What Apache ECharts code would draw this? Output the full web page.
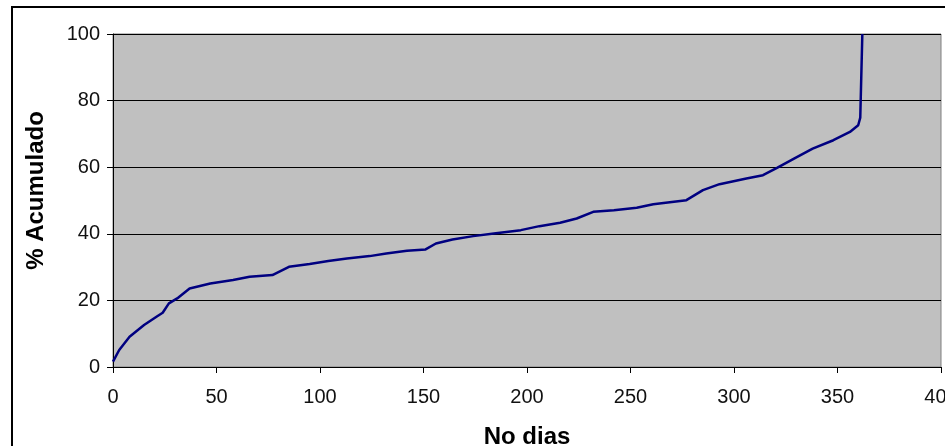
<!DOCTYPE html>
<html>
<head>
<meta charset="utf-8">
<script src="https://cdn.jsdelivr.net/npm/echarts@6/dist/echarts.min.js"></script>
<style>
  html, body { margin: 0; padding: 0; background: #fff; }
  #chart { width: 945px; height: 446px; }
</style>
</head>
<body>
<div id="chart"></div>
<script>
// values
const days = [0, 3, 8, 15, 21, 24, 27, 31, 37, 47, 58, 66, 77, 85, 95, 104, 113, 124, 132, 142,
  151, 156, 164, 174, 184, 197, 206, 216, 224, 232, 242, 253, 261, 277, 285, 293, 306, 314,
  321, 329, 338, 348, 356, 360, 361, 362]
const pct = [1.6, 5.1, 9.1, 12.6, 15.1, 16.3, 19.1, 20.6, 23.6, 25.1, 26.1, 27.1, 27.6, 30.1,
  30.9, 31.8, 32.6, 33.3, 34.1, 34.9, 35.3, 37.1, 38.3, 39.3, 40.1, 41.1, 42.3, 43.3, 44.6,
  46.6, 47.1, 47.8, 48.9, 50.1, 53.1, 54.9, 56.6, 57.6, 59.9, 62.6, 65.6, 68.1, 70.6, 72.6,
  74.9, 100]

const xName = 'No dias'
const yName = '% Acumulado'

const chart = echarts.init(document.getElementById('chart'))

const fontFamily = 'Liberation Sans, Arial, sans-serif'
const labelFont = { fontFamily, fontSize: 20, color: '#111' }
const nameFont = { fontFamily, fontSize: 24, fontWeight: 'bold', color: '#000' }

const option = {
  animation: false,
  backgroundColor: '#fff',
  graphic: [
    {
      // outer chart frame (runs off the right and bottom edges)
      type: 'rect',
      shape: { x: 12, y: 7, width: 1000, height: 500 },
      style: { fill: 'none', stroke: '#000', lineWidth: 2 },
      z: 0
    }
  ],
  grid: {
    left: 113,
    right: 4,
    top: 34,
    bottom: 79,
    outerBoundsMode: 'none',
    show: true,
    backgroundColor: '#c0c0c0',
    borderColor: '#808080',
    borderWidth: 1
  },
  xAxis: {
    type: 'value',
    min: 0,
    max: 400,
    interval: 50,
    name: xName,
    nameLocation: 'middle',
    nameGap: 58,
    nameTextStyle: nameFont,
    axisLine: { show: true, lineStyle: { color: '#000', width: 1 } },
    axisTick: { show: true, length: 6, lineStyle: { color: '#000' } },
    axisLabel: { ...labelFont, margin: 20 },
    splitLine: { show: false }
  },
  yAxis: {
    type: 'value',
    min: 0,
    max: 100,
    interval: 20,
    name: yName,
    nameLocation: 'middle',
    nameGap: 65,
    nameRotate: 90,
    nameTextStyle: { ...nameFont, padding: [0, 0, 0, 20] },
    axisLine: { show: true, lineStyle: { color: '#000', width: 1 } },
    axisTick: { show: true, length: 6, lineStyle: { color: '#000' } },
    axisLabel: { ...labelFont, margin: 13 },
    splitLine: { show: true, lineStyle: { color: '#000', width: 1 } }
  },
  series: [
    {
      type: 'line',
      data: days.map((d, i) => [d, pct[i]]),
      showSymbol: false,
      lineStyle: { color: '#000080', width: 2.5 },
      itemStyle: { color: '#000080' }
    }
  ]
}

chart.setOption(option)
</script>
</body>
</html>
